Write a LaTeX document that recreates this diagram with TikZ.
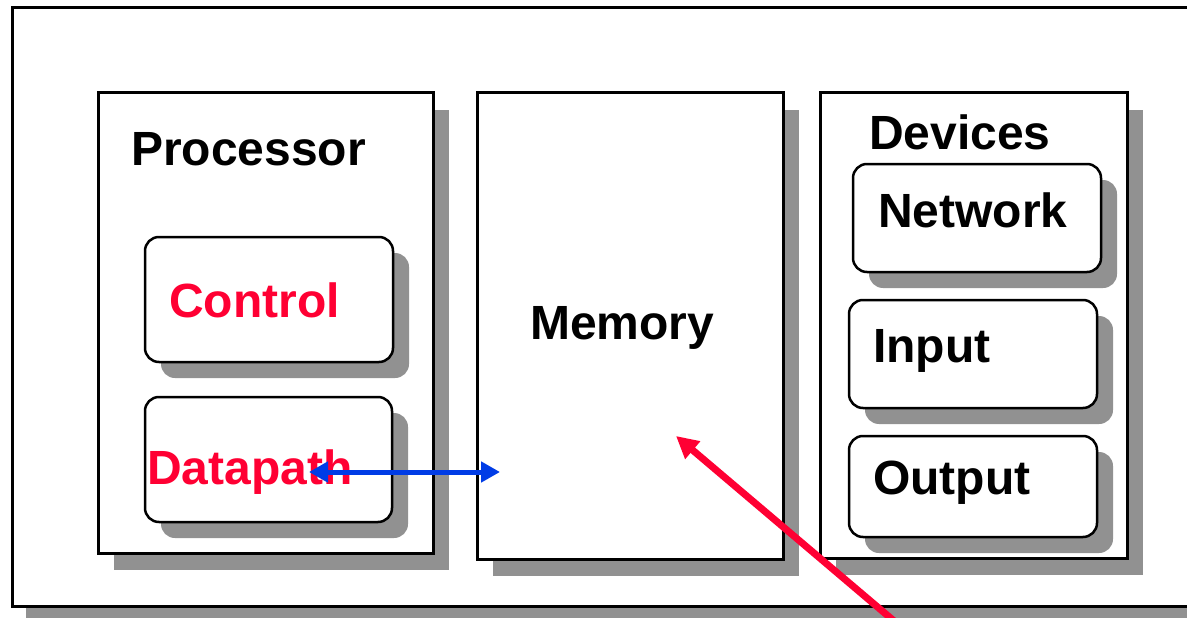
\documentclass[tikz,border=0pt]{standalone}
\usepackage{fontspec}
\setmainfont{Liberation Sans}
\usetikzlibrary{arrows.meta,shadows}

\definecolor{shadegray}{RGB}{145,145,145}
\definecolor{labelred}{RGB}{255,0,51}
\definecolor{busblue}{RGB}{0,60,230}

\tikzset{
  panel/.style={rectangle, draw=black, line width=3pt, fill=white, inner sep=0pt,
    drop shadow={shadow xshift=16pt, shadow yshift=-17pt, fill=shadegray, opacity=1}},
  framebox/.style={rectangle, draw=black, line width=3pt, fill=white, inner sep=0pt,
    drop shadow={shadow xshift=14pt, shadow yshift=-13pt, fill=shadegray, opacity=1}},
  unit/.style={rectangle, rounded corners=14pt, draw=black, line width=2.5pt, fill=white, inner sep=0pt,
    drop shadow={shadow xshift=16pt, shadow yshift=-16pt, fill=shadegray, opacity=1}},
  caption/.style={font=\fontsize{48}{54}\selectfont\bfseries, inner sep=0pt, anchor=base west},
  redcaption/.style={caption, text=labelred},
  busarrow/.style={draw=busblue, line width=5pt, {Triangle[length=19pt,width=20pt]}-{Triangle[length=19pt,width=20pt]}},
  pointer/.style={draw=labelred, line width=7pt, -{Triangle[length=22pt,width=22pt]}}
}

\begin{document}
\begin{tikzpicture}[x=1pt, y=-1pt]
  \useasboundingbox (0,0) rectangle (1187,618);
  \clip (0,0) rectangle (1187,618);

  % outer frame, running off the right edge
  \node[framebox, minimum width=1190pt, minimum height=598pt] (frame) at (607,307) {};

  % the three main blocks
  \node[panel, minimum width=335pt, minimum height=460pt] (processor) at (265.5,323) {};
  \node[panel, minimum width=306pt, minimum height=466pt] (memory) at (630,326) {};
  \node[panel, minimum width=307pt, minimum height=465pt] (devices) at (973.5,325.5) {};

  % processor parts
  \node[unit, minimum width=248pt, minimum height=125pt] (control) at (269,299.5) {};
  \node[unit, minimum width=247pt, minimum height=125pt] (datapath) at (268.5,459.5) {};

  % devices
  \node[unit, minimum width=248pt, minimum height=108pt] (network) at (977,218) {};
  \node[unit, minimum width=248pt, minimum height=108pt] (input) at (973,354) {};
  \node[unit, minimum width=248pt, minimum height=101pt] (output) at (973,486.5) {};

  % labels
  \node[caption] (processorlabel) at (131,165) {Processor};
  \node[redcaption] (controllabel) at (169,317) {Control};
  \node[redcaption] (datapathlabel) at (147,484) {Datapath};
  \node[caption] (memorylabel) at (530,339) {Memory};
  \node[caption] (deviceslabel) at (869,149) {Devices};
  \node[caption] (networklabel) at (878,227) {Network};
  \node[caption] (inputlabel) at (873,362) {Input};
  \node[caption] (outputlabel) at (873,494) {Output};

  % datapath <-> memory bus
  \coordinate (dpport) at (309,472);
  \coordinate (memport) at (500,472);
  \draw[busarrow] (dpport) -- (memport);

  % pointer into memory
  \coordinate (pointerfoot) at (940,660);
  \coordinate (pointertip) at (676,436);
  \draw[pointer] (pointerfoot) -- (pointertip);
\end{tikzpicture}
\end{document}
